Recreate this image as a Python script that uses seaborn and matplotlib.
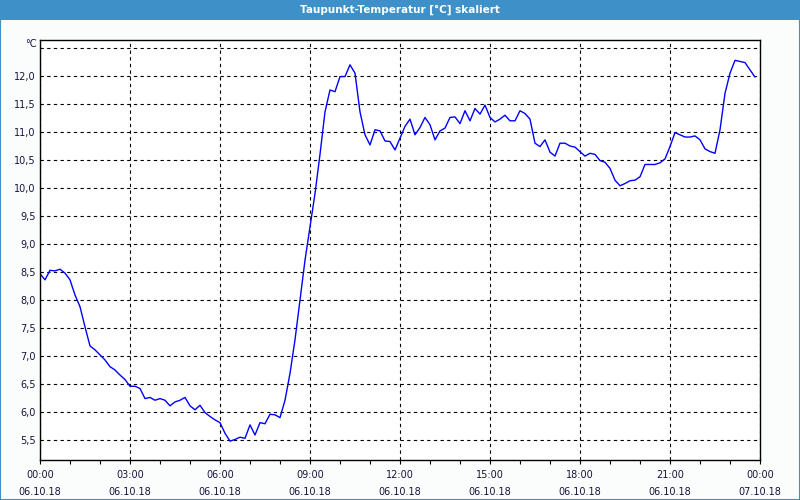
import numpy as np
import pandas as pd
import matplotlib
matplotlib.use("Agg")
import matplotlib.pyplot as plt
import seaborn as sns
from matplotlib.patches import Rectangle

sns.set_theme(style="white")
plt.rcParams['font.family'] = ['DejaVu Sans']

# dew point readings, one every 10 minutes starting 06.10.18 00:00
dew = [8.47, 8.36, 8.53, 8.52, 8.55, 8.48, 8.36, 8.09, 7.88, 7.52, 7.18, 7.11,
       7.02, 6.93, 6.81, 6.75, 6.66, 6.58, 6.46, 6.46, 6.42, 6.24, 6.26, 6.21,
       6.24, 6.21, 6.11, 6.18, 6.21, 6.26, 6.11, 6.04, 6.12, 5.99, 5.92, 5.86,
       5.81, 5.62, 5.48, 5.51, 5.55, 5.53, 5.77, 5.59, 5.81, 5.79, 5.96, 5.95,
       5.90, 6.21, 6.69, 7.29, 8.00, 8.71, 9.30, 9.90, 10.60, 11.36, 11.75, 11.72,
       11.99, 11.99, 12.20, 12.05, 11.36, 10.95, 10.77, 11.04, 11.02, 10.84, 10.83, 10.68,
       10.89, 11.10, 11.23, 10.95, 11.08, 11.26, 11.13, 10.86, 11.02, 11.07, 11.26, 11.27,
       11.15, 11.38, 11.20, 11.42, 11.32, 11.48, 11.26, 11.18, 11.23, 11.30, 11.20, 11.20,
       11.38, 11.33, 11.23, 10.80, 10.74, 10.86, 10.64, 10.57, 10.80, 10.80, 10.75, 10.73,
       10.65, 10.57, 10.62, 10.60, 10.49, 10.46, 10.35, 10.14, 10.04, 10.08, 10.13, 10.14,
       10.20, 10.42, 10.42, 10.42, 10.45, 10.52, 10.74, 10.99, 10.95, 10.91, 10.91, 10.93,
       10.86, 10.70, 10.65, 10.62, 11.04, 11.69, 12.05, 12.28, 12.26, 12.24, 12.11, 11.98]

hour_labels = ["00:00", "03:00", "06:00", "09:00", "12:00", "15:00", "18:00", "21:00", "00:00"]
date_labels = ["06.10.18"] * 8 + ["07.10.18"]
y_ticks = [5.5, 6.0, 6.5, 7.0, 7.5, 8.0, 8.5, 9.0, 9.5, 10.0, 10.5, 11.0, 11.5, 12.0, 12.5]

df = pd.DataFrame({"hour": np.arange(len(dew)) / 6.0, "dew": dew})

bar_blue = "#3d91c8"
txt_col = "#14143c"

fig = plt.figure(figsize=(8, 5), dpi=100)
fig.patch.set_facecolor("#fbfdfd")

# window frame: title bar + thin border
fig.patches.append(Rectangle((0, 0.96), 1, 0.04, transform=fig.transFigure,
                             facecolor=bar_blue, edgecolor="none", zorder=0))
fig.patches.append(Rectangle((0.0006, 0.001), 0.9988, 0.998, transform=fig.transFigure,
                             facecolor="none", edgecolor=bar_blue, linewidth=1.5, zorder=0))
fig.text(0.5, 0.98, "Taupunkt-Temperatur [°C] skaliert", color="white",
         ha="center", va="center", fontsize=7.5, fontweight="bold")

ax = fig.add_axes([0.05, 0.08, 0.9, 0.84])
ax.set_facecolor("white")
sns.lineplot(data=df, x="hour", y="dew", color="#0000ff", linewidth=1, ax=ax)

ax.set_xlim(0, 24)
ax.set_ylim(5.143, 12.643)

ax.set_xticks(range(0, 25, 3))
ax.set_xticklabels([h + "\n" + d for h, d in zip(hour_labels, date_labels)],
                   fontsize=7, color=txt_col, linespacing=1.9)
ax.set_xticks(range(0, 25), minor=True)
ax.tick_params(axis="x", which="both", direction="out", length=3, width=0.8,
               color="black", pad=4, bottom=True)

ax.set_yticks(y_ticks)
ax.set_yticklabels([f"{v:.1f}".replace(".", ",") if v < 12.4 else "" for v in y_ticks],
                   fontsize=7, color=txt_col)
ax.tick_params(axis="y", length=0, pad=3)
ax.text(-0.004, 12.58, "°C", transform=ax.get_yaxis_transform(), ha="right",
        va="center", fontsize=7, color=txt_col)

ax.grid(True, which="major", color="black", linestyle=(0, (3, 3)), linewidth=0.8)
for s in ax.spines.values():
    s.set_color("black")
    s.set_linewidth(1)
ax.set_xlabel("")
ax.set_ylabel("")

fig.savefig("out.png", dpi=100)
